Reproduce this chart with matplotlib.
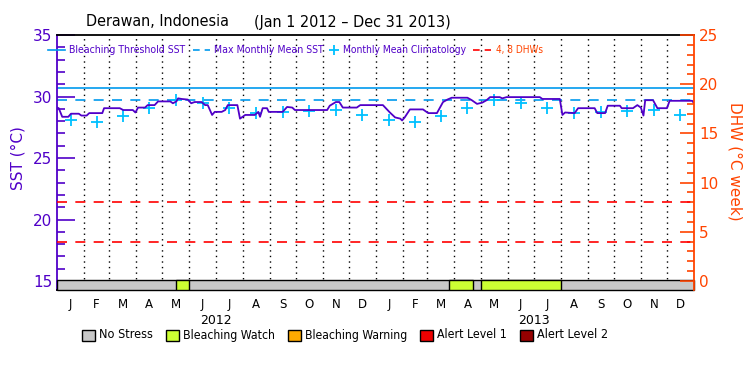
import numpy as np
import matplotlib
matplotlib.use('Agg')
import matplotlib.pyplot as plt
from matplotlib.lines import Line2D
from matplotlib.patches import Rectangle
from matplotlib import font_manager
from matplotlib.font_manager import FontProperties

# SST time series (days since Jan 1 2012, deg C)
sst_day = np.array([0, 2, 6, 13, 16, 25, 28, 34, 37, 52, 54, 72, 76, 87, 90, 93, 101, 104,
                    112, 116, 130, 133, 137, 139, 143, 150, 154, 158, 166, 170, 173, 178,
                    181, 189, 193, 196, 207, 210, 216, 227, 231, 233, 236, 241, 243, 259,
                    264, 270, 273, 310, 313, 320, 324, 328, 344, 348, 374, 382, 388, 394,
                    396, 399, 405, 420, 426, 436, 443, 448, 453, 471, 476, 482, 488, 493,
                    497, 508, 511, 516, 554, 557, 577, 580, 583, 594, 598, 617, 620, 629,
                    632, 646, 648, 661, 666, 670, 673, 675, 684, 689, 700, 703, 729, 731])
sst_val = np.array([29.1, 29.05, 28.35, 28.35, 28.6, 28.6, 28.45, 28.45, 28.65, 28.65, 29.05,
                    29.05, 28.9, 28.9, 28.7, 29.1, 29.1, 29.3, 29.3, 29.6, 29.6, 29.45, 29.6,
                    29.85, 29.8, 29.75, 29.45, 29.55, 29.55, 29.3, 29.3, 28.5, 28.75, 28.75,
                    28.9, 29.3, 29.3, 28.2, 28.5, 28.5, 28.75, 28.35, 29.05, 29.05, 28.75,
                    28.75, 29.15, 29.1, 28.9, 28.9, 29.25, 29.55, 29.55, 29.1, 29.1, 29.3,
                    29.3, 28.7, 28.3, 28.2, 28.05, 28.3, 28.95, 28.95, 28.65, 28.65, 29.55,
                    29.75, 29.9, 29.9, 29.7, 29.4, 29.5, 29.7, 29.95, 29.95, 29.85, 29.95,
                    29.95, 29.8, 29.8, 28.5, 28.7, 28.65, 29.05, 29.05, 28.65, 28.65, 29.25,
                    29.25, 29.05, 29.05, 29.3, 29.1, 28.45, 29.7, 29.7, 29.05, 29.05, 29.65,
                    29.65, 29.45])

clim = [28.05, 27.9, 28.44, 29.09, 29.68, 29.48, 29.09, 28.68, 28.73, 28.86, 28.87, 28.47]
mmm = 29.7
threshold = 30.7
dhw_levels = [4, 8]

months = ['J', 'F', 'M', 'A', 'M', 'J', 'J', 'A', 'S', 'O', 'N', 'D']
years = ['2012', '2013']

watch_start = ['2012-05-17', '2013-03-26', '2013-05-02']
watch_end = ['2012-06-01', '2013-04-22', '2013-08-01']

stress_names = ['No Stress', 'Bleaching Watch', 'Bleaching Warning', 'Alert Level 1', 'Alert Level 2']
stress_colors = ['#c8c8c8', '#ccff33', '#ffaa00', '#ee0000', '#960000']

purple = '#5000c8'
orange = '#ff4400'
cyan = '#00c0ff'
blue = '#0099ee'

# a condensed sans if there is one, else Liberation Sans (narrowest of the usual ones)
cond = [f for f in font_manager.fontManager.ttflist
        if f.stretch in ('condensed', 'semi-condensed', 'extra-condensed')
        and f.style == 'normal' and f.weight in (400, 'normal', 'regular')
        and 'Mono' not in f.name and 'Serif' not in f.name]
if cond:
    base_fp = FontProperties(fname=cond[0].fname)
else:
    base_fp = FontProperties(family='Liberation Sans')

W, H = 750, 375


def ftext(x, y, s, width=None, size=10, **kw):
    fp = base_fp.copy()
    fp.set_size(size)
    t = fig.text(x / W, 1 - y / H, s, fontproperties=fp, ha='left', va='center', **kw)
    r = fig.canvas.get_renderer()
    w = t.get_window_extent(r).width
    if width is not None:
        t.set_fontsize(size * width / w)
        w = width
    return x + w


t0 = np.datetime64('2012-01-01')
month_starts = np.arange('2012-01', '2014-02', dtype='datetime64[M]').astype('datetime64[D]')
month_days = (month_starts - t0).astype(float)
mid_days = (month_days[:-1] + month_days[1:]) / 2
ndays = month_days[-1]

fig = plt.figure(figsize=(7.5, 3.75), dpi=100)
ax = fig.add_axes([57 / W, 1 - 290 / H, 637 / W, 255 / H])
ymin = 15 - 9 / 12.3
ax.set_xlim(0, ndays)
ax.set_ylim(ymin, 35)

# month grid
for d in month_days[1:-1]:
    ax.axvline(d, color='black', ls=(0, (1, 3)), lw=1, zorder=1)

ax.axhline(threshold, color=blue, lw=1.2, zorder=2)
ax.axhline(mmm, color=blue, lw=1.2, ls=(0, (6, 5)), zorder=2)

ax2 = ax.twinx()
ax2.set_ylim(-(9 / 246) * 25, 25)
for lv in dhw_levels:
    ax2.axhline(lv, color='#ff0000', lw=1.2, ls=(0, (6, 5)))

ax.plot(mid_days, clim * 2, ls='none', marker='+', ms=8, mew=1.3, color=cyan, zorder=3)
ax.plot(sst_day, sst_val, color=purple, lw=1.3, zorder=4)

# stress bar
bar_top = 15 + 1 / 12.3
ax.add_patch(Rectangle((0, ymin), ndays, bar_top - ymin, facecolor=stress_colors[0],
                       edgecolor='black', lw=1, zorder=5, clip_on=False))
for s, e in zip(watch_start, watch_end):
    a = (np.datetime64(s) - t0).astype(float)
    b = (np.datetime64(e) - t0).astype(float)
    ax.add_patch(Rectangle((a, ymin), b - a, bar_top - ymin, facecolor=stress_colors[1],
                           edgecolor='black', lw=1, zorder=6))

ax.set_yticks([15, 20, 25, 30, 35])
ax.set_yticks(np.arange(15, 36, 1), minor=True)
ax.tick_params(axis='y', which='major', direction='in', length=13, width=1.2, colors=purple,
               labelsize=11, labelcolor=purple)
ax.tick_params(axis='y', which='minor', direction='in', length=6, width=1.2, colors=purple)
ax.set_xticks([])
ax.spines['left'].set_color(purple)
ax.spines['left'].set_linewidth(1.3)
for sp in ['top', 'bottom']:
    ax.spines[sp].set_linewidth(1.3)
ax.spines['right'].set_visible(False)

ax2.set_yticks([0, 5, 10, 15, 20, 25])
ax2.set_yticks(np.arange(0, 26, 1), minor=True)
ax2.tick_params(axis='y', which='major', direction='in', length=10, width=1.2, colors=orange,
                labelsize=11, labelcolor=orange)
ax2.tick_params(axis='y', which='minor', direction='in', length=5, width=1.2, colors=orange)
ax2.spines['right'].set_color(orange)
ax2.spines['right'].set_linewidth(1.3)
for sp in ['top', 'bottom', 'left']:
    ax2.spines[sp].set_visible(False)

for d, m in zip(mid_days, months * 2):
    ax.text(d, -0.03, m, transform=ax.get_xaxis_transform(), ha='center', va='top', fontsize=8.5)
for i, y in enumerate(years):
    ax.text(month_days[6 + 12 * i], -0.095, y, transform=ax.get_xaxis_transform(),
            ha='center', va='top', fontsize=9)

fig.text(18 / W, 1 - 158 / H, 'SST (°C)', rotation=90, ha='center', va='center',
         color=purple, fontsize=11)
fig.text(735 / W, 1 - 161 / H, 'DHW (°C week)', rotation=-90, ha='center', va='center',
         color=orange, fontsize=11)

# title
ftext(86, 22, 'Derawan, Indonesia', size=11.5)
ftext(254, 22, '(Jan 1 2012 – Dec 31 2013)', size=11.5)

# top legend
K = 1.22
ly = 50
yf = 1 - ly / H
x = 48
fig.add_artist(Line2D([x / W, (x + 17) / W], [yf, yf], color=blue, lw=1.2))
x = ftext(x + 21, ly, 'Bleaching Threshold SST', 96 * K, color=purple) + 7
fig.add_artist(Line2D([x / W, (x + 17) / W], [yf, yf], color=blue, lw=1.2, ls=(0, (4, 3))))
x = ftext(x + 21, ly, 'Max Monthly Mean SST', 90 * K, color=purple) + 10
fig.add_artist(Line2D([x / W], [yf], color=cyan, marker='+', ms=7, mew=1.3))
x = ftext(x + 9, ly, 'Monthly Mean Climatology', 101 * K, color=purple) + 7
fig.add_artist(Line2D([x / W, (x + 18) / W], [yf, yf], color='#ff0000', lw=1.2,
                      ls=(0, (4, 3))))
ftext(x + 23, ly, '4, 8 DHWs', 39 * K, color=orange)

# stress legend
K = 1.2
text_w = [45, 77, 85, 58, 59]
by = 335
x = 82
for name, c, tw in zip(stress_names, stress_colors, text_w):
    fig.add_artist(Rectangle((x / W, 1 - (by + 5.5) / H), 12.5 / W, 11 / H, facecolor=c,
                             edgecolor='black', lw=1, transform=fig.transFigure))
    x = ftext(x + 17, by, name, tw * K) + 13

fig.savefig('out.png', dpi=100)
